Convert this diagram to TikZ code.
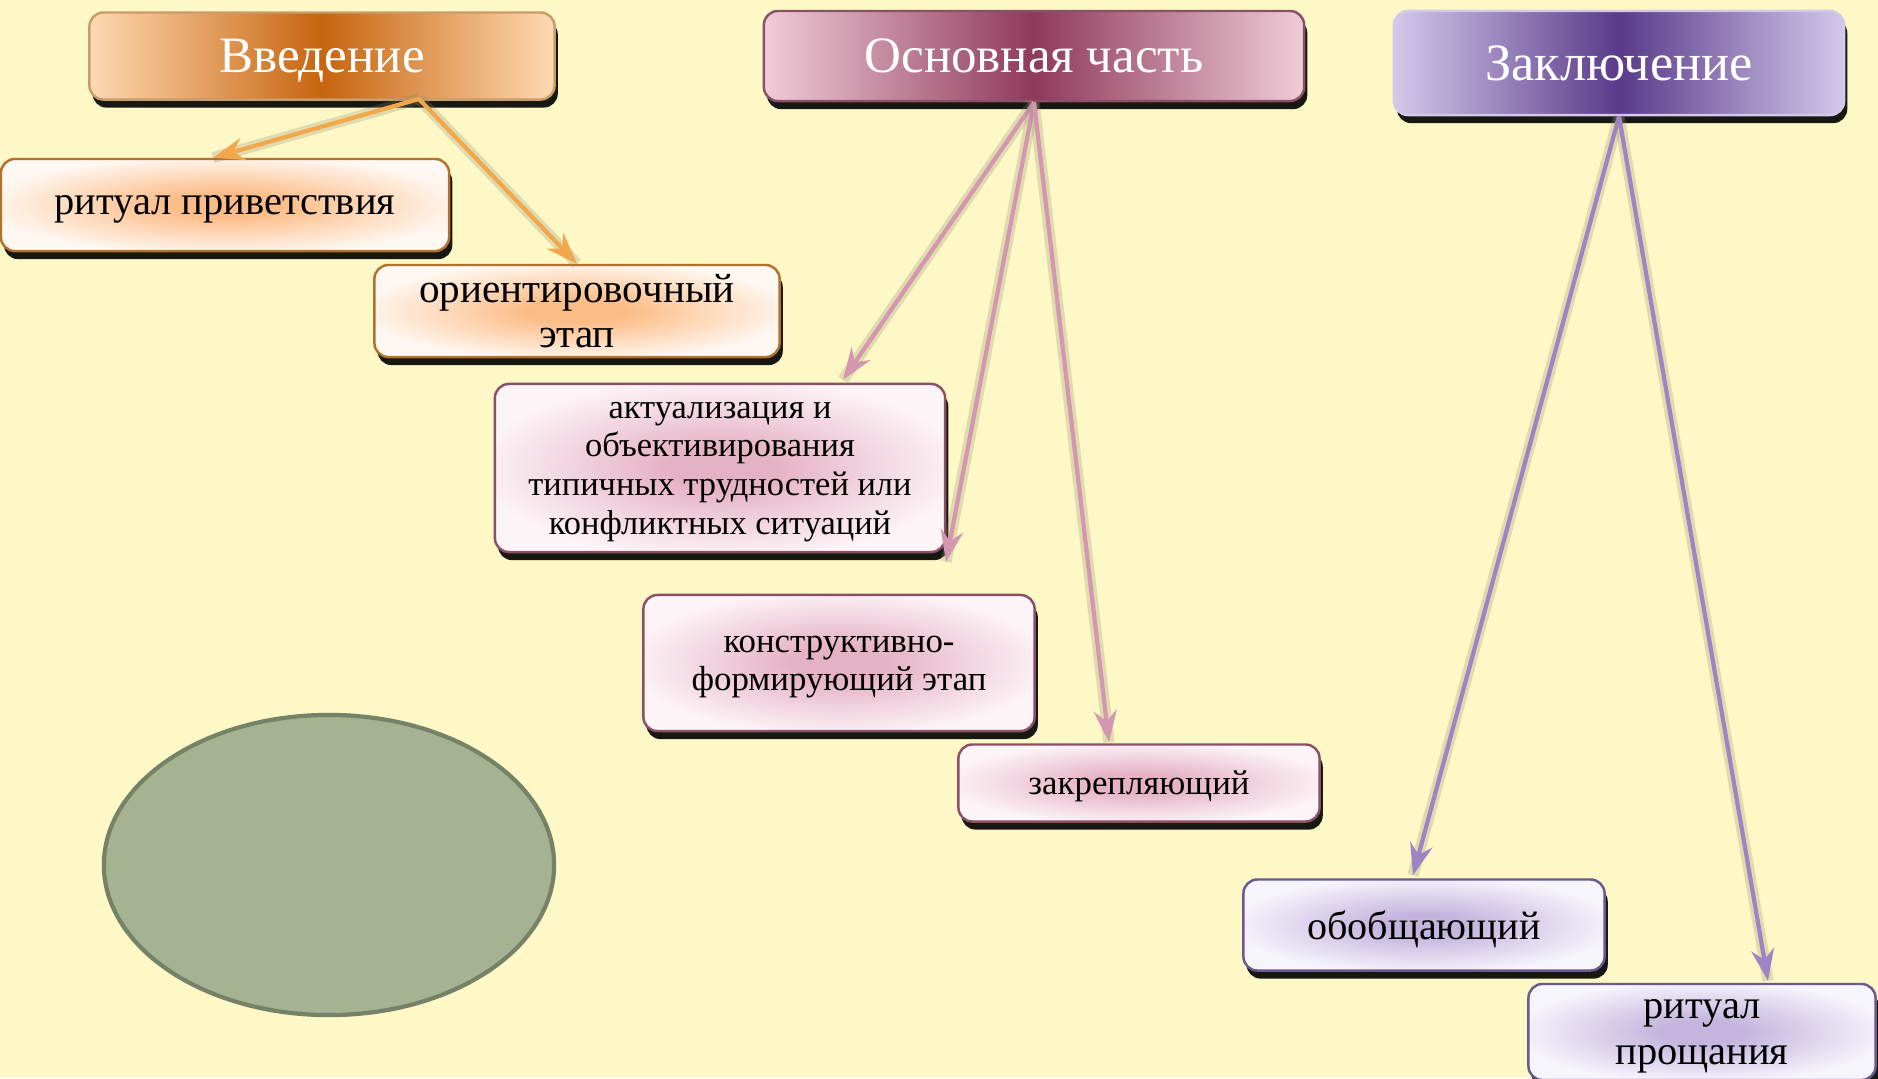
\documentclass[tikz,border=0pt]{standalone}
\usepackage{fontspec}
\setmainfont{Liberation Serif}
\usetikzlibrary{arrows.meta,shadows,calc}
\definecolor{bg}{HTML}{FDF8C6}
\definecolor{orA}{HTML}{C6650F}\definecolor{orB}{HTML}{FFD9B2}
\definecolor{orC}{HTML}{FCBC86}\definecolor{orD}{HTML}{FFF8F2}
\definecolor{orL}{HTML}{F2A84A}\definecolor{orE}{HTML}{B2712C}
\definecolor{piA}{HTML}{8E3A5A}\definecolor{piB}{HTML}{F0CCD8}
\definecolor{piC}{HTML}{E5B2C5}\definecolor{piD}{HTML}{FDF4F8}
\definecolor{piL}{HTML}{D597B0}\definecolor{piE}{HTML}{8A5068}
\definecolor{puA}{HTML}{5A3A8A}\definecolor{puB}{HTML}{D3C9EA}
\definecolor{puC}{HTML}{C5B5DE}\definecolor{puD}{HTML}{F7F5FC}
\definecolor{puL}{HTML}{9D85C4}\definecolor{puE}{HTML}{6A5890}
\definecolor{ovF}{HTML}{A5B392}\definecolor{ovE}{HTML}{768268}
\colorlet{boxin}{white}\colorlet{boxout}{white}
\pgfdeclareradialshading[boxin,boxout]{wide}{\pgfpoint{0bp}{0bp}}{color(0bp)=(boxin);color(6bp)=(boxin);color(27bp)=(boxout);color(50bp)=(boxout)}
\begin{document}
\begin{tikzpicture}[x=0.01cm,y=-0.01cm,>={Stealth[length=9pt,width=6.5pt,inset=3pt]},
	box/.style={rounded corners=4pt,line width=0.7pt,align=center,inner sep=0pt,
		drop shadow={shadow xshift=0.9pt,shadow yshift=-2.3pt,opacity=0.9,fill=black}},
	head/.style={box,text=white,text depth=0pt,font=\fontsize{14.5}{17}\selectfont},
	sub/.style={box,text=black,shading=wide},
	tint/.code 2 args={\colorlet{boxin}{#1}\colorlet{boxout}{#2}},
	low/.style={text depth=-2pt},
	link/.style={->,line width=1.2pt,preaction={draw=black!45!bg,-,line width=3.2pt,opacity=0.25}}]
	\useasboundingbox (0,0) rectangle (1878,1078);
	\fill[bg] (0,0) rectangle (1878,1078);
	% headers
	\node[head,draw=orE!70,left color=orB,right color=orB,middle color=orA,minimum width=4.65cm,minimum height=0.87cm] (intro) at (322,56) {Введение};
	\node[head,draw=piE,left color=piB,right color=piB,middle color=piA,minimum width=5.4cm,minimum height=0.9cm] (main) at (1034,56) {Основная часть};
	\node[head,draw=puB,left color=puB,right color=puB,middle color=puA,minimum width=4.5cm,minimum height=1.04cm,font=\fontsize{14.9}{17}\selectfont] (concl) at (1619,63) {Заключение};
	% introduction
	\node[sub,low,draw=orE,tint={orC}{orD},minimum width=4.48cm,minimum height=0.92cm,font=\fontsize{11.5}{14}\selectfont] (greet) at (225,205) {ритуал приветствия};
	\node[sub,draw=orE,tint={orC}{orD},minimum width=4.05cm,minimum height=0.92cm,font=\fontsize{11.7}{13}\selectfont] (orient) at (577,311) {ориентировочный\\этап};
	% main part
	\node[sub,low,draw=piE,tint={piC}{piD},minimum width=4.5cm,minimum height=1.68cm,font=\fontsize{9.8}{11}\selectfont] (actual) at (720,468) {актуализация и\\объективирования\\типичных трудностей или\\конфликтных ситуаций};
	\node[sub,low,draw=piE,tint={piC}{piD},minimum width=3.91cm,minimum height=1.36cm,font=\fontsize{9.9}{10.7}\selectfont] (constr) at (839,663) {конструктивно-\\формирующий этап};
	\node[sub,draw=piE,tint={piC}{piD},text depth=0pt,minimum width=3.61cm,minimum height=0.77cm,font=\fontsize{9.9}{12}\selectfont] (fix) at (1139,783) {закрепляющий};
	% conclusion
	\node[sub,draw=puE,tint={puC}{puD},text depth=0pt,minimum width=3.61cm,minimum height=0.91cm,font=\fontsize{11.4}{14}\selectfont] (sum) at (1424,925) {обобщающий};
	\node[sub,low,draw=puE,tint={puC}{puD},minimum width=3.47cm,minimum height=0.96cm,font=\fontsize{11.5}{13.2}\selectfont] (bye) at (1702,1032) {ритуал\\прощания};
	\draw[fill=ovF,draw=ovE,line width=1.2pt] (329,865) ellipse [x radius=2.25cm,y radius=1.5cm];
	% connectors
	\coordinate (introout) at (419,99);
	\draw[link,orL] (introout)--($(greet.north)+(-12,0)$);
	\draw[link,orL] (introout)--(orient.north);
	\draw[link,piL] (main.south)--($(actual.north)+(123,-3)$);
	\draw[link,piL] (main.south)--($(constr.north)+(107,-32)$);
	\draw[link,piL] (main.south)--($(fix.north)+(-30,-1)$);
	\draw[link,puL] (concl.south)--($(sum.north)+(-11,-3)$);
	\draw[link,puL] (concl.south)--($(bye.north)+(66,-2)$);
\end{tikzpicture}
\end{document}
